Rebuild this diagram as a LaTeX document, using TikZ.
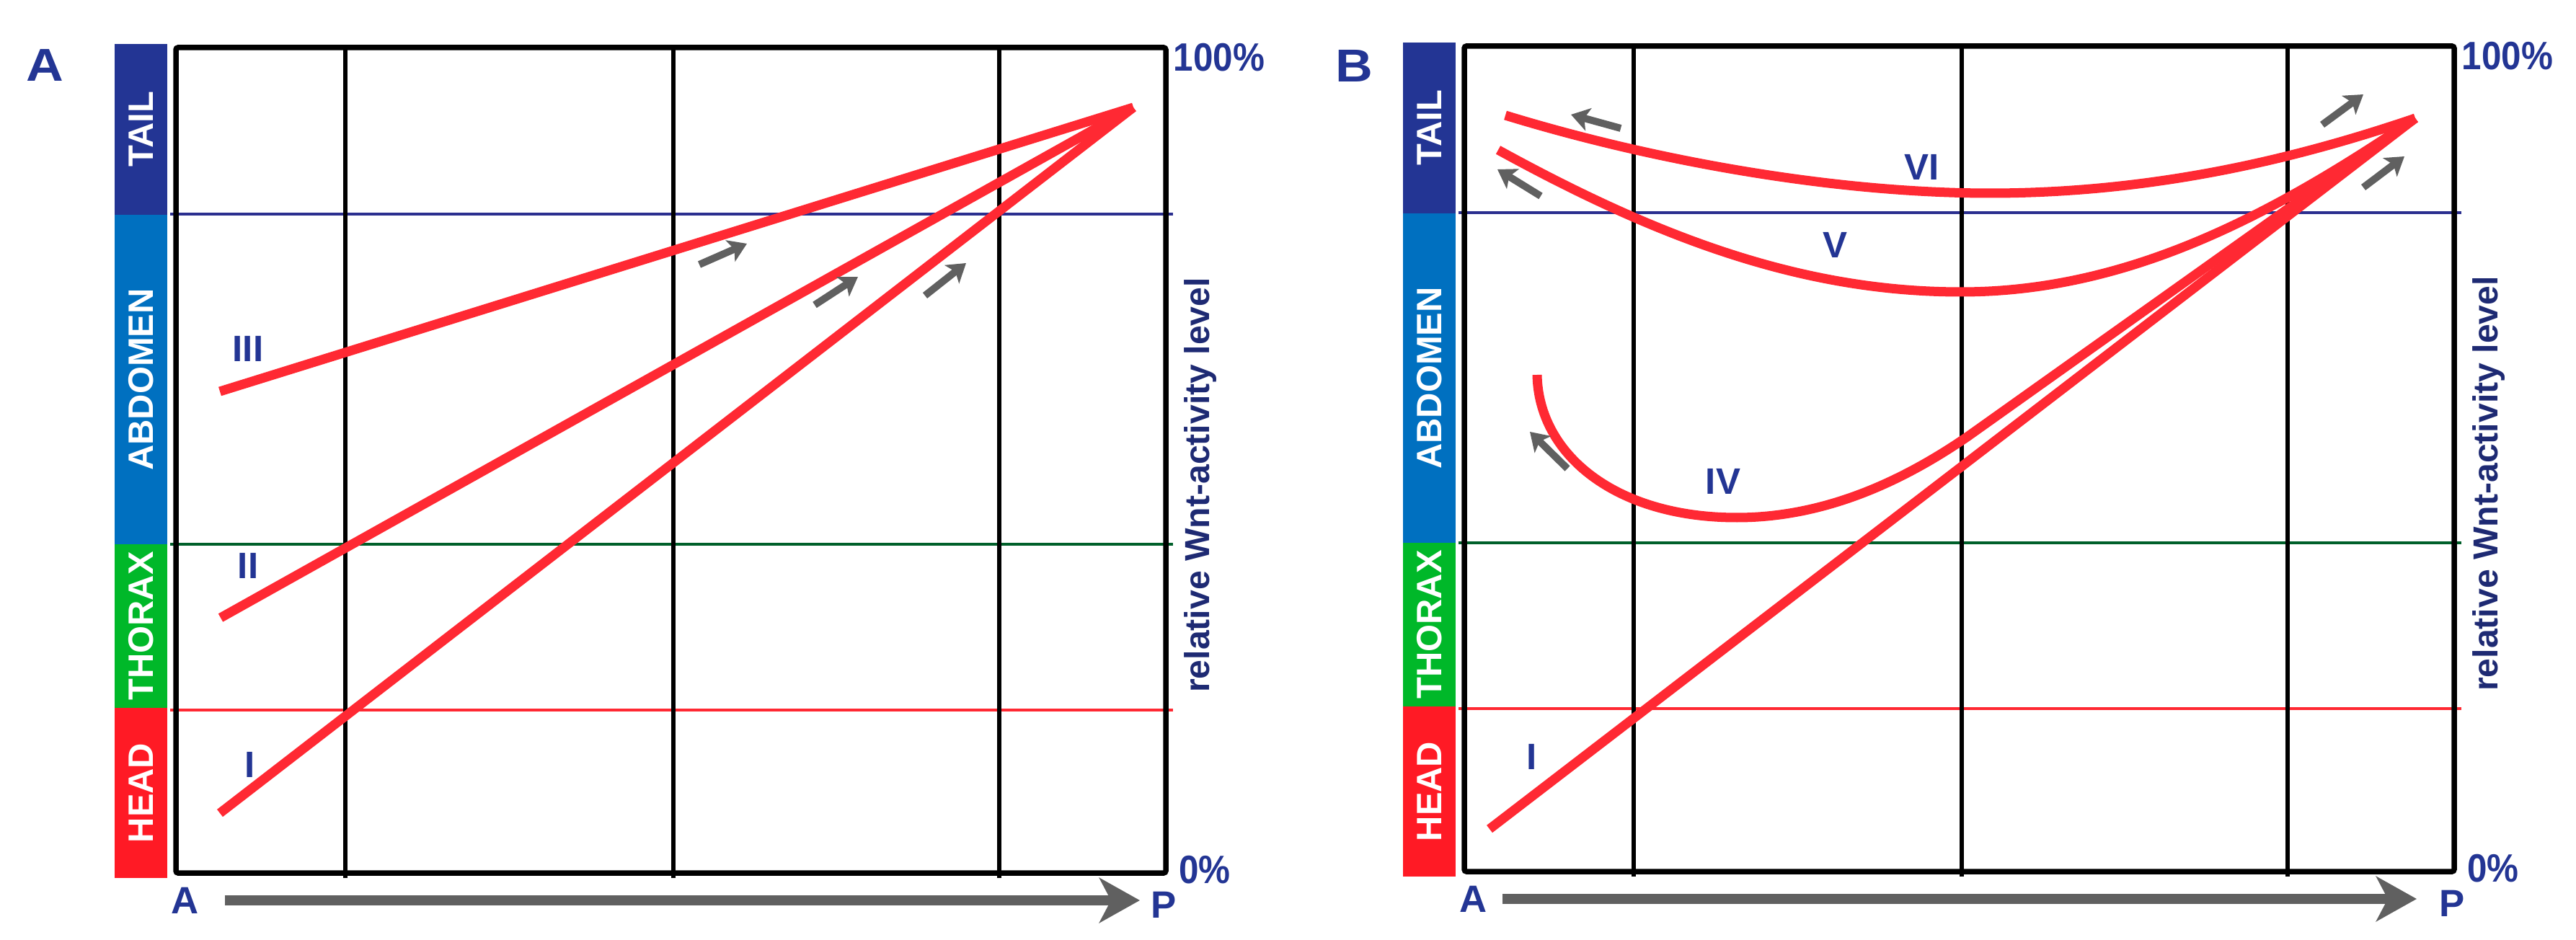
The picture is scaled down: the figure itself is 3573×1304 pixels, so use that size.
\documentclass[tikz,border=0pt]{standalone}
\usepackage{fontspec}
\setmainfont{Liberation Sans}
\usetikzlibrary{arrows.meta}
\definecolor{cred}{RGB}{255,41,51}
\definecolor{ctail}{RGB}{35,53,148}
\definecolor{cabd}{RGB}{0,112,192}
\definecolor{cthx}{RGB}{0,184,41}
\definecolor{chead}{RGB}{255,26,37}
\definecolor{ctxt}{RGB}{35,53,148}
\definecolor{cwnt}{RGB}{30,42,115}
\definecolor{cgray}{RGB}{96,96,96}
\definecolor{cgreen}{RGB}{0,96,42}
\definecolor{cblue}{RGB}{43,47,143}
\begin{document}
\begin{tikzpicture}[x=0.01cm,y=-0.01cm,
  framebox/.style={line width=0.075cm, rounded corners=0.03cm},
  gridline/.style={line width=0.065cm},
  level/.style={line width=0.04cm},
  curve/.style={cred, line width=0.13cm, line join=round},
  sarrow/.style={cgray, line width=0.1cm, -{Stealth[length=0.25cm,width=0.32cm,inset=0.06cm]}},
  bigarrow/.style={cgray, line width=0.14cm, -{Stealth[length=0.56cm,width=0.62cm,inset=0.16cm]}},
  barlabel/.style={rotate=90, inner sep=0, text=white, font=\fontsize{13.9pt}{15pt}\selectfont\bfseries},
  panellabel/.style={inner sep=0, text=ctxt, font=\fontsize{18.2pt}{20pt}\selectfont\bfseries, xscale=1.12},
  pct/.style={inner sep=0, text=ctxt, font=\fontsize{15.6pt}{17pt}\selectfont\bfseries, xscale=0.9},
  axislabel/.style={inner sep=0, text=ctxt, font=\fontsize{15pt}{17pt}\selectfont\bfseries},
  wnt/.style={rotate=90, inner sep=0, text=cwnt, font=\fontsize{13.7pt}{15pt}\selectfont\bfseries},
  roman/.style={inner sep=0, text=ctxt, font=\fontsize{14.5pt}{16pt}\selectfont\bfseries}]
\useasboundingbox (0,0) rectangle (3573,1304);

\foreach \o/\dy/\n in {0/0/a,1787/-2/b}{
  \begin{scope}[shift={(\o,\dy)}]
    % colour bar
    \node (tail\n) [barlabel, fill=ctail, minimum width=2.37cm, minimum height=0.73cm] at (195.5,179.5) {TAIL};
    \node (abd\n) [barlabel, fill=cabd, minimum width=4.57cm, minimum height=0.73cm] at (195.5,526.5) {ABDOMEN};
    \node (thx\n) [barlabel, fill=cthx, minimum width=2.27cm, minimum height=0.73cm] at (195.5,868.5) {THORAX};
    \node (head\n) [barlabel, fill=chead, minimum width=2.36cm, minimum height=0.73cm] at (195.5,1100) {HEAD};
    % level lines
    \draw[level, cblue] (236,297) -- (1627,297);
    \draw[level, cgreen] (236,755) -- (1627,755);
    \draw[level, cred] (236,985) -- (1627,985);
    % grid lines
    \foreach \g in {479,934,1386}{
      \draw[gridline] (\g,66) -- (\g,1218);
    }
    % frame
    \draw[framebox] (244,66) rectangle (1617,1211);
    % right side texts
    \node (hundred\n) [pct] at (1691,80) {100\%};
    \node (zero\n) [pct] at (1671,1207) {0\%};
    \node (wnt\n) [wnt] at (1665,673) {relative Wnt-activity level};
    % A-P axis
    \node (ax\n) [axislabel] at (257,1249) {A};
    \node (px\n) [axislabel] at (1614,1255) {P};
  \end{scope}
}
\coordinate (ast) at (312,1249);
\coordinate (aend) at (1581,1249);
\coordinate (bst) at (2084,1247);
\coordinate (bend) at (3352,1247);
\draw[bigarrow] (ast) -- (aend);
\draw[bigarrow] (bst) -- (bend);

% panel labels
\node (labA) [panellabel] at (62,90) {A};
\node (labB) [panellabel] at (1878,91) {B};

% ---------- panel A curves ----------
\coordinate (convA) at (1572,149);
\coordinate (a1) at (305,1128);
\coordinate (a2) at (306,857);
\coordinate (a3) at (305,543);
\draw[curve] (a3) -- (convA);
\draw[curve] (a2) -- (convA);
\draw[curve] (a1) -- (convA);
\node (rIIIa) [roman] at (344,484) {III};
\node (rIIa) [roman] at (344,785) {II};
\node (rIa) [roman] at (347,1061) {I};
\draw[sarrow] (970,367) -- (1036,338);
\draw[sarrow] (1130,423) -- (1190,384);
\draw[sarrow] (1283,410) -- (1340,365);

% ---------- panel B curves ----------
\coordinate (convB) at (3350,164);
\coordinate (b1) at (2066,1150);
\coordinate (b4) at (2132,520);
\coordinate (b5) at (2078,208);
\coordinate (b6) at (2088,160);
\draw[curve] (b1) -- (convB);
\draw[curve] (b4) .. controls (2134,630) and (2240,718) .. (2409,718)
   .. controls (2540,718) and (2650,660) .. (2730,605) -- (convB);
\draw[curve] (b5) .. controls (2300,330) and (2500,405) .. (2720,405)
   .. controls (2950,405) and (3150,300) .. (convB);
\draw[curve] (b6) .. controls (2300,225) and (2550,268) .. (2760,268)
   .. controls (3000,268) and (3200,215) .. (convB);
\node (rVIb) [roman] at (2666,232) {VI};
\node (rVb) [roman] at (2545,340) {V};
\node (rIVb) [roman] at (2390,668) {IV};
\node (rIb) [roman] at (2125,1050) {I};
\draw[sarrow] (2248,178) -- (2179,159);
\draw[sarrow] (2137,272) -- (2077,235);
\draw[sarrow] (2174,650) -- (2122,599);
\draw[sarrow] (3221,173) -- (3278,131);
\draw[sarrow] (3278,260) -- (3335,217);
\end{tikzpicture}
\end{document}
